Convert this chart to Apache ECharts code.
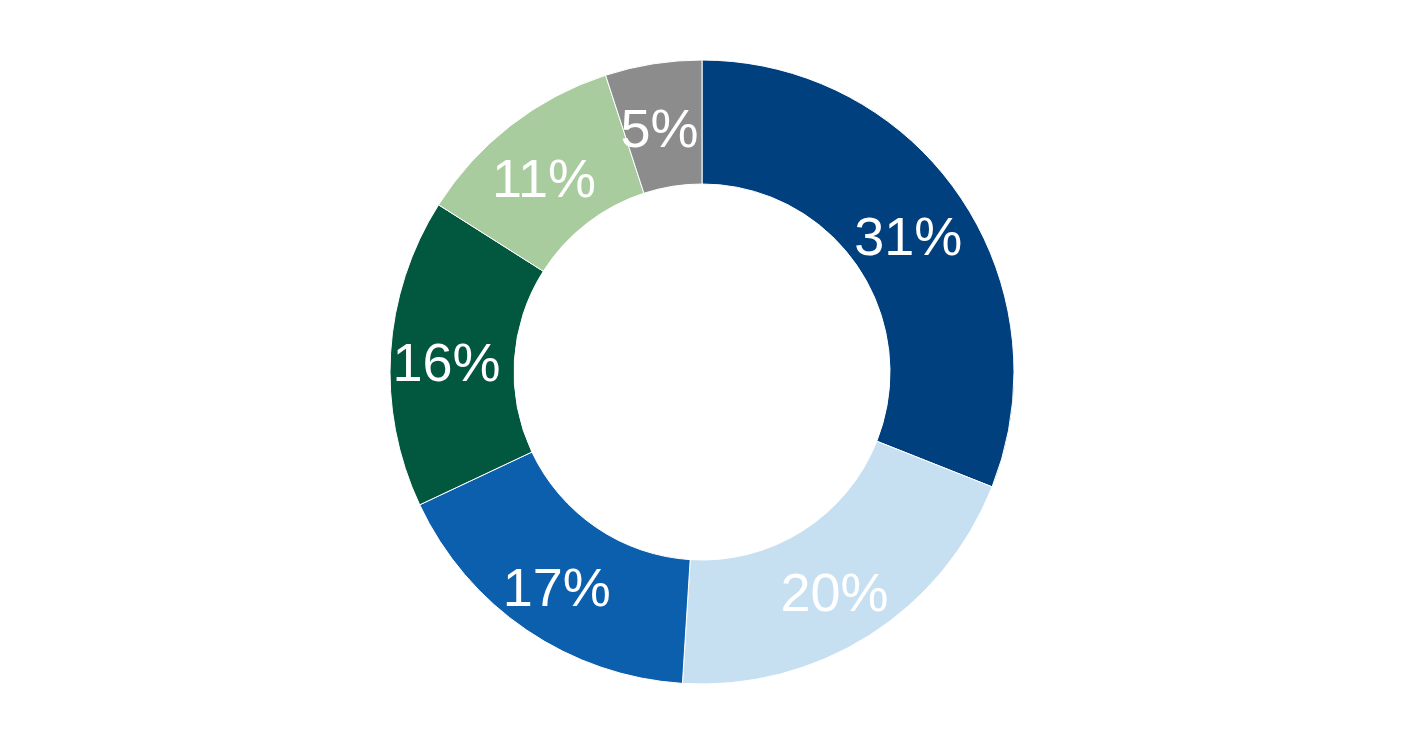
<!DOCTYPE html>
<html>
<head>
<meta charset="utf-8">
<script src="https://cdn.jsdelivr.net/npm/echarts@6/dist/echarts.min.js"></script>
<style>html,body{margin:0;padding:0;background:#fff}#c{width:1404px;height:744px}</style>
</head>
<body>
<div id="c"></div>
<script>
const categories = ['A', 'B', 'C', 'D', 'E', 'F'];
const values = [31, 20, 17, 16, 11, 5];
const colors = ['#00407F', '#C6E0F2', '#0B5FAD', '#02583F', '#A8CC9E', '#8C8C8C'];

const chart = echarts.init(document.getElementById('c'));
chart.setOption({
  animation: false,
  series: [{
    type: 'pie',
    center: [702, 372],
    radius: [188, 312],
    startAngle: 90,
    clockwise: true,
    avoidLabelOverlap: false,
    data: categories.map((c, i) => ({ name: c, value: values[i], itemStyle: { color: colors[i] } })),
    itemStyle: { borderColor: '#ffffff', borderWidth: 1 },
    label: {
      show: true,
      position: 'inside',
      formatter: p => p.value + '%',
      color: '#ffffff',
      fontFamily: 'Liberation Sans, Arial, sans-serif',
      fontSize: 54,
      offset: [-3, 10],
      textBorderWidth: 0
    },
    labelLine: { show: false },
    emphasis: { disabled: true }
  }]
});
</script>
</body>
</html>
